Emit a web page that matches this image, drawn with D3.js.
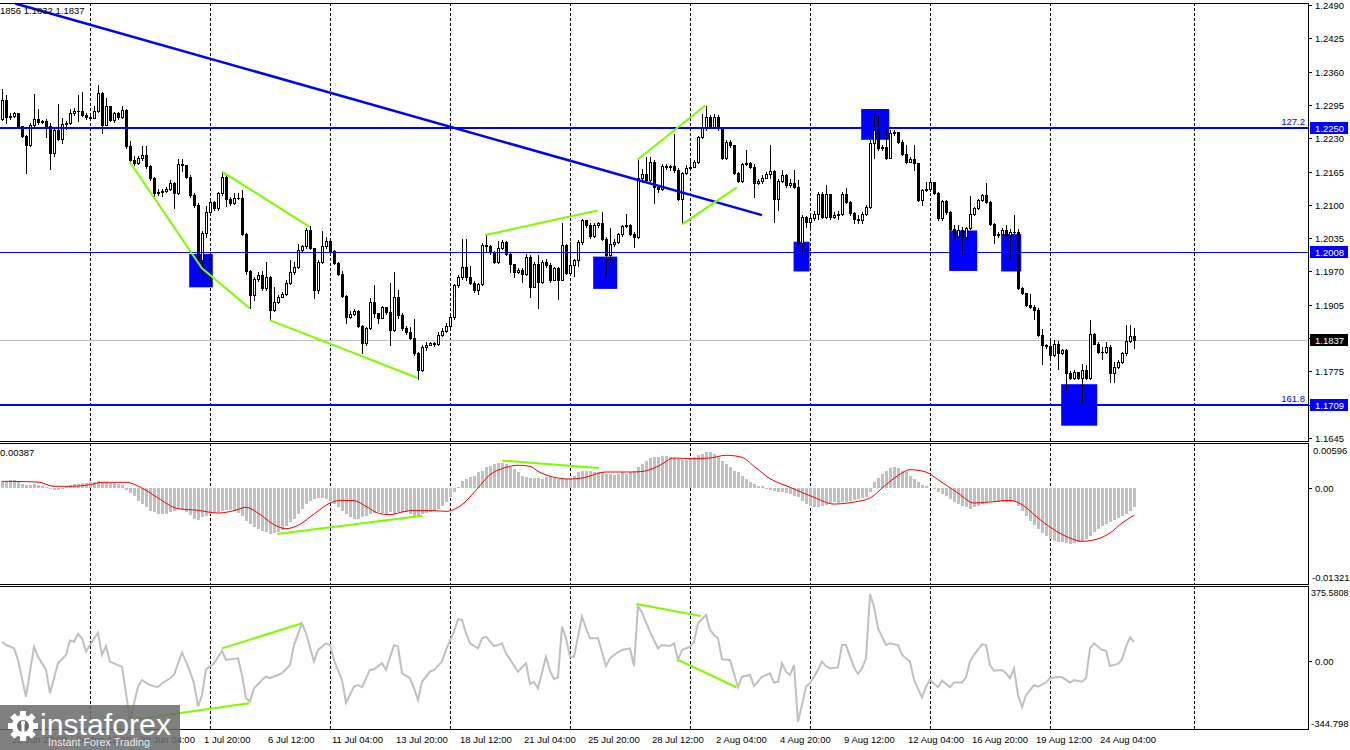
<!DOCTYPE html>
<html><head><meta charset="utf-8">
<script src="https://cdn.jsdelivr.net/npm/d3@7"></script>
<style>body{margin:0;background:#fff}svg{display:block}text{font-family:"Liberation Sans",Arial,sans-serif}</style>
</head><body><svg id="c" width="1350" height="750"></svg>
<script>
// ---------- DATA ----------
const firstOpen = 1.2267;
const closes = [1.2305,1.2272,1.2274,1.2279,1.2253,1.2235,1.2217,1.2256,1.2267,1.2261,
1.2263,1.2253,1.2201,1.2246,1.2228,1.2258,1.2259,1.2279,1.2284,1.2283,
1.2276,1.2271,1.2270,1.2284,1.2318,1.2256,1.2292,1.2266,1.2280,1.2271,
1.2285,1.2214,1.2188,1.2181,1.2191,1.2197,1.2175,1.2152,1.2123,1.2126,
1.2127,1.2130,1.2143,1.2123,1.2180,1.2178,1.2155,1.2119,1.2100,1.1992,
1.2045,1.2087,1.2106,1.2093,1.2123,1.2154,1.2111,1.2103,1.2113,1.2114,
1.2043,1.1970,1.1924,1.1955,1.1963,1.1937,1.1960,1.1895,1.1911,1.1920,
1.1926,1.1947,1.1968,1.1979,1.2011,1.2019,1.2051,1.2015,1.1934,1.1989,
1.2020,1.2030,1.2009,1.1987,1.1966,1.1922,1.1882,1.1887,1.1892,1.1864,
1.1830,1.1859,1.1911,1.1888,1.1880,1.1900,1.1890,1.1856,1.1921,1.1885,
1.1859,1.1851,1.1841,1.1810,1.1778,1.1823,1.1826,1.1830,1.1829,1.1846,
1.1854,1.1864,1.1882,1.1943,1.1959,1.1979,1.1959,1.1948,1.1933,1.1945,
1.2021,1.2019,1.2008,1.1989,1.2015,1.2028,1.2005,1.1984,1.1969,1.1972,
1.1966,1.1999,1.1940,1.1985,1.1950,1.1989,1.1982,1.1953,1.1976,1.1954,
1.2021,1.1967,1.1982,1.1992,1.2028,1.2070,1.2060,1.2039,1.2060,1.2064,
1.2034,1.2002,1.2023,1.2028,1.2043,1.2058,1.2060,1.2044,1.2038,1.2153,
1.2161,1.2148,1.2184,1.2135,1.2130,1.2176,1.2173,1.2176,1.2168,1.2112,
1.2163,1.2172,1.2174,1.2184,1.2232,1.2249,1.2272,1.2252,1.2272,1.2249,
1.2191,1.2223,1.2217,1.2163,1.2147,1.2179,1.2182,1.2174,1.2143,1.2147,
1.2153,1.2161,1.2166,1.2112,1.2147,1.2158,1.2138,1.2143,1.2135,1.2025,
1.2077,1.2067,1.2075,1.2083,1.2121,1.2077,1.2121,1.2077,1.2080,1.2082,
1.2121,1.2106,1.2084,1.2073,1.2071,1.2083,1.2096,1.2220,1.2247,1.2210,
1.2212,1.2191,1.2241,1.2243,1.2223,1.2200,1.2184,1.2189,1.2181,1.2110,
1.2129,1.2130,1.2144,1.2123,1.2075,1.2108,1.2086,1.2052,1.2039,1.2051,
1.2038,1.2054,1.2082,1.2093,1.2109,1.2119,1.2106,1.2062,1.2041,1.2044,
1.2051,1.2041,1.2047,1.2047,1.1937,1.1927,1.1904,1.1901,1.1894,1.1846,
1.1826,1.1824,1.1806,1.1829,1.1810,1.1816,1.1771,1.1763,1.1774,1.1763,
1.1777,1.1763,1.1847,1.1829,1.1813,1.1813,1.1823,1.1771,1.1784,1.1794,
1.1810,1.1834,1.1844,1.1837];
const highs = [1.2326,1.2315,1.2279,1.2282,1.2279,1.2253,1.2237,1.2259,1.2317,1.2287,
1.2266,1.2267,1.2259,1.2250,1.2297,1.2269,1.2263,1.2287,1.2289,1.2315,
1.2321,1.2279,1.2274,1.2292,1.2334,1.2321,1.2308,1.2293,1.2282,1.2282,
1.2293,1.2288,1.2224,1.2196,1.2196,1.2214,1.2214,1.2178,1.2155,1.2130,
1.2130,1.2134,1.2149,1.2145,1.2189,1.2189,1.2178,1.2158,1.2123,1.2104,
1.2048,1.2097,1.2111,1.2108,1.2126,1.2165,1.2158,1.2116,1.2123,1.2123,
1.2129,1.2046,1.1973,1.1960,1.1968,1.1970,1.1989,1.1961,1.1940,1.1924,
1.1930,1.1953,1.1992,1.1989,1.2024,1.2022,1.2054,1.2058,1.2015,1.1992,
1.2048,1.2038,1.2033,1.2011,1.1989,1.1970,1.1924,1.1892,1.1896,1.1895,
1.1866,1.1862,1.1918,1.1944,1.1888,1.1903,1.1901,1.1947,1.1968,1.1934,
1.1888,1.1864,1.1862,1.1877,1.1813,1.1826,1.1833,1.1833,1.1833,1.1851,
1.1859,1.1869,1.1888,1.1946,1.1963,1.2034,1.2034,1.1980,1.1952,1.1948,
1.2025,1.2041,1.2022,1.2010,1.2030,1.2031,1.2030,1.2006,1.1985,1.1976,
1.1976,1.2005,1.2002,1.1989,1.2003,1.1993,1.1995,1.1987,1.1979,1.1978,
1.2064,1.2023,1.2028,1.1995,1.2031,1.2073,1.2071,1.2064,1.2064,1.2067,
1.2086,1.2038,1.2054,1.2034,1.2045,1.2060,1.2083,1.2062,1.2047,1.2187,
1.2169,1.2194,1.2194,1.2187,1.2138,1.2179,1.2179,1.2178,1.2239,1.2171,
1.2165,1.2178,1.2191,1.2187,1.2234,1.2278,1.2293,1.2275,1.2278,1.2275,
1.2252,1.2226,1.2226,1.2217,1.2165,1.2182,1.2207,1.2184,1.2179,1.2151,
1.2158,1.2165,1.2217,1.2168,1.2150,1.2168,1.2161,1.2150,1.2168,1.2148,
1.2080,1.2078,1.2080,1.2088,1.2125,1.2125,1.2138,1.2122,1.2086,1.2088,
1.2125,1.2132,1.2108,1.2086,1.2080,1.2086,1.2099,1.2226,1.2278,1.2273,
1.2217,1.2249,1.2246,1.2247,1.2243,1.2226,1.2217,1.2194,1.2217,1.2182,
1.2131,1.2145,1.2147,1.2145,1.2125,1.2110,1.2109,1.2088,1.2060,1.2060,
1.2057,1.2057,1.2117,1.2096,1.2112,1.2122,1.2143,1.2108,1.2065,1.2047,
1.2054,1.2060,1.2052,1.2080,1.2052,1.1940,1.1928,1.1926,1.1904,1.1898,
1.1857,1.1828,1.1836,1.1837,1.1834,1.1819,1.1818,1.1776,1.1777,1.1774,
1.1789,1.1787,1.1876,1.1850,1.1833,1.1823,1.1832,1.1826,1.1793,1.1797,
1.1813,1.1865,1.1865,1.1859];
const lows = [1.2265,1.2259,1.2267,1.2272,1.2252,1.2232,1.2162,1.2215,1.2254,1.2258,
1.2259,1.2233,1.2170,1.2196,1.2227,1.2220,1.2248,1.2258,1.2275,1.2263,
1.2274,1.2268,1.2267,1.2269,1.2282,1.2240,1.2256,1.2263,1.2261,1.2267,
1.2269,1.2211,1.2185,1.2178,1.2180,1.2188,1.2171,1.2149,1.2116,1.2119,
1.2117,1.2126,1.2128,1.2093,1.2121,1.2167,1.2152,1.2116,1.2095,1.1983,
1.1966,1.2038,1.2085,1.2090,1.2089,1.2119,1.2097,1.2100,1.2101,1.2111,
1.2041,1.1966,1.1898,1.1914,1.1952,1.1934,1.1934,1.1875,1.1892,1.1908,
1.1920,1.1924,1.1946,1.1965,1.1976,1.2009,1.2015,1.2013,1.1918,1.1927,
1.1986,1.2015,1.2007,1.1985,1.1964,1.1920,1.1869,1.1880,1.1886,1.1861,
1.1810,1.1826,1.1857,1.1882,1.1869,1.1879,1.1887,1.1826,1.1854,1.1880,
1.1856,1.1848,1.1838,1.1807,1.1761,1.1776,1.1817,1.1826,1.1825,1.1826,
1.1844,1.1852,1.1862,1.1878,1.1940,1.1956,1.1953,1.1945,1.1930,1.1926,
1.1943,1.2010,1.2005,1.1987,1.1987,1.2013,1.2002,1.1969,1.1959,1.1967,
1.1950,1.1963,1.1920,1.1939,1.1898,1.1948,1.1979,1.1950,1.1953,1.1917,
1.1953,1.1965,1.1963,1.1962,1.1980,1.2023,1.2057,1.2036,1.2038,1.2057,
1.2031,1.1963,1.1989,1.2019,1.2025,1.2039,1.2056,1.2041,1.2018,1.2036,
1.2145,1.2145,1.2147,1.2103,1.2125,1.2129,1.2170,1.2168,1.2165,1.2109,
1.2064,1.2161,1.2170,1.2173,1.2182,1.2230,1.2247,1.2249,1.2251,1.2246,
1.2189,1.2189,1.2213,1.2160,1.2145,1.2145,1.2177,1.2171,1.2116,1.2140,
1.2143,1.2153,1.2153,1.2067,1.2090,1.2145,1.2135,1.2134,1.2132,1.2021,
1.2002,1.2057,1.2056,1.2071,1.2073,1.2074,1.2075,1.2073,1.2075,1.2073,
1.2080,1.2103,1.2080,1.2064,1.2065,1.2065,1.2080,1.2093,1.2191,1.2208,
1.2208,1.2189,1.2191,1.2236,1.2220,1.2197,1.2182,1.2184,1.2168,1.2108,
1.2099,1.2127,1.2127,1.2121,1.2070,1.2071,1.2083,1.2051,1.2036,1.2038,
1.2005,1.2034,1.2052,1.2080,1.2091,1.2108,1.2104,1.2060,1.2026,1.2038,
1.2043,1.2038,1.1995,1.2044,1.1935,1.1926,1.1902,1.1898,1.1878,1.1844,
1.1790,1.1821,1.1803,1.1805,1.1780,1.1808,1.1739,1.1760,1.1761,1.1760,
1.1715,1.1760,1.1761,1.1828,1.1810,1.1800,1.1811,1.1754,1.1754,1.1781,
1.1792,1.1806,1.1832,1.1820];
const macdHist = [0.00098,0.00098,0.00112,0.00112,0.00084,0.00056,0.00042,0.00042,0.00056,0.00042,
0.00028,0.00014,-0.00014,-0.00028,-0.00028,-0.00014,0.00014,0.00042,0.00056,0.00056,
0.0007,0.0007,0.00084,0.00084,0.00098,0.00084,0.00084,0.0007,0.0007,0.00056,
0.00042,-0.00028,-0.0007,-0.00112,-0.00182,-0.00224,-0.00266,-0.00322,-0.00336,-0.00364,
-0.00364,-0.00364,-0.00336,-0.00322,-0.00294,-0.00308,-0.00336,-0.00378,-0.00434,-0.00448,
-0.00406,-0.00392,-0.00364,-0.0035,-0.00336,-0.00322,-0.00308,-0.00308,-0.00322,-0.0035,
-0.00392,-0.00462,-0.00504,-0.00546,-0.00574,-0.00602,-0.00616,-0.00644,-0.0063,-0.00616,
-0.00588,-0.00532,-0.00476,-0.00434,-0.00364,-0.00294,-0.00224,-0.00182,-0.00154,-0.0014,
-0.0014,-0.00154,-0.00182,-0.00224,-0.00266,-0.00322,-0.00364,-0.00406,-0.00434,-0.00434,
-0.00406,-0.00392,-0.00364,-0.0035,-0.00336,-0.0035,-0.00364,-0.00336,-0.00364,-0.00336,
-0.00336,-0.00336,-0.00364,-0.00392,-0.00392,-0.00364,-0.0035,-0.00336,-0.00322,-0.00294,
-0.00252,-0.00196,-0.00126,-0.00056,0.00014,0.00098,0.00126,0.00154,0.00168,0.00224,
0.00238,0.00294,0.00308,0.00336,0.0035,0.0035,0.00336,0.00294,0.00266,0.00224,
0.00168,0.00154,0.0014,0.0014,0.0014,0.00126,0.00154,0.00168,0.0014,0.00126,
0.00126,0.00126,0.0014,0.00168,0.00224,0.00238,0.00238,0.00238,0.00224,0.00224,
0.00224,0.00196,0.00196,0.00182,0.00196,0.00224,0.00196,0.00224,0.00238,0.00294,
0.00336,0.00378,0.0042,0.00434,0.00434,0.00448,0.00448,0.00434,0.0042,0.00406,
0.00392,0.00392,0.00406,0.00434,0.00462,0.00476,0.00504,0.00504,0.00476,0.00434,
0.00378,0.00336,0.00294,0.00238,0.00224,0.00168,0.00126,0.00084,0.00056,0.00028,
0.00028,-0.00014,-0.00028,-0.00042,-0.00056,-0.00056,-0.0007,-0.00084,-0.00112,-0.00126,
-0.00182,-0.00224,-0.00252,-0.00266,-0.00266,-0.00252,-0.00238,-0.0021,-0.00196,-0.0021,
-0.00196,-0.00196,-0.00182,-0.00168,-0.00154,-0.0014,-0.00126,-0.00056,0.00084,0.0014,
0.00196,0.00238,0.0028,0.00294,0.0028,0.00238,0.00224,0.00168,0.00126,0.00084,
0.00042,0.00028,0,-0.00014,-0.00056,-0.00084,-0.00112,-0.00154,-0.00196,-0.00224,
-0.00252,-0.00266,-0.00294,-0.00266,-0.00252,-0.00224,-0.00196,-0.00182,-0.00182,-0.00196,
-0.00196,-0.00196,-0.00196,-0.00196,-0.00252,-0.00322,-0.00392,-0.00462,-0.00518,-0.00574,
-0.0063,-0.00672,-0.00714,-0.00742,-0.00756,-0.00756,-0.0077,-0.00784,-0.0077,-0.00756,
-0.00742,-0.00714,-0.00672,-0.00616,-0.00574,-0.00532,-0.00504,-0.00476,-0.00448,-0.0042,
-0.00392,-0.00364,-0.00322,-0.00266];
const signalIdx = [0,9,13,17,22,25,31,35,39,44,49,54,58,61,64,68,71,74,78,82,85,88,91,94,97,100,103,108,111,115,119,122,125,129,132,134,139,142,145,151,157,160,164,168,172,177,181,185,188,192,197,203,208,213,217,221,225,227,231,234,239,243,247,252,255,259,263,267,270,272,277,280,283];
const signalVal = [0.00088,0.00078,0.00018,0.00018,0.00041,0.00074,0.00074,-0.00006,-0.00146,-0.00295,-0.00318,-0.00356,-0.00323,-0.00276,-0.00356,-0.00519,-0.00575,-0.00528,-0.0037,-0.00216,-0.00178,-0.00183,-0.00262,-0.00356,-0.00379,-0.00342,-0.00318,-0.00323,-0.00332,-0.00239,-0.00006,0.00181,0.00265,0.00312,0.00298,0.00228,0.00134,0.0012,0.00134,0.00218,0.00218,0.00225,0.00298,0.00414,0.00405,0.00414,0.00452,0.00424,0.00298,0.00125,0.00004,-0.00136,-0.0023,-0.00202,-0.00146,0.00041,0.00204,0.00251,0.00218,0.00111,-0.00076,-0.00216,-0.00202,-0.00178,-0.00239,-0.00426,-0.00589,-0.00706,-0.00752,-0.00743,-0.00636,-0.00496,-0.00387];
const cciIdx = [0,1,2,3,4,6,8,9,11,12,14,16,17,18,19,20,21,22,24,25,26,27,29,30,32,34,35,37,39,40,42,43,44,45,46,47,48,49,50,51,53,55,56,59,60,61,62,63,65,66,67,69,70,72,73,75,76,78,79,81,82,83,85,86,88,89,90,92,93,95,96,98,99,100,102,103,104,105,107,108,110,111,113,114,115,116,117,119,120,121,123,124,125,126,129,130,131,132,133,134,136,137,138,139,140,141,142,143,145,146,147,149,151,152,153,155,157,158,159,160,161,162,164,165,167,168,169,170,172,173,174,176,177,178,179,180,182,184,185,187,188,190,192,193,194,195,196,197,198,199,200,201,202,204,205,206,207,209,210,211,213,214,215,216,217,218,219,221,222,224,225,227,228,230,231,232,234,235,237,238,240,241,242,243,245,246,247,248,250,251,252,253,254,255,256,258,259,261,262,264,265,267,268,270,271,272,273,275,276,277,279,280,281,282,283];
const cciVal = [99,82,74,65,5,-184,74,22,-46,-166,-12,31,105,99,139,117,48,82,146,31,77,-3,-21,-29,-304,-132,-98,-124,-135,-115,-89,-72,-12,43,-3,-55,-115,-235,-175,-43,-12,53,5,14,-72,-192,-209,-141,-98,-81,-89,-72,-63,-21,82,194,143,-3,57,91,82,5,-98,-215,-132,-124,-135,-46,-43,-12,-46,82,74,-63,-89,-141,-201,-107,-55,-46,-3,57,151,215,211,143,91,65,117,125,77,82,91,40,-55,-33,-12,-118,-107,-141,22,-50,-94,-84,177,117,22,22,228,168,117,117,-26,14,31,57,65,-26,283,250,200,150,65,82,77,91,5,57,74,99,194,237,160,134,117,9,5,-135,-81,-72,-129,-81,-63,-111,-107,-12,-55,-72,-21,-312,-226,-132,-115,-46,-3,-26,-38,-33,82,82,-33,-67,-38,14,345,279,168,82,91,82,31,-3,-98,-187,-132,-98,-135,-101,-135,-111,-111,-84,-3,31,86,82,-21,-50,-46,-63,-89,-38,-175,-238,-175,-124,-132,-111,-89,-81,-84,-111,-98,-107,-89,65,91,57,53,-26,-15,9,74,122,99];
const priceTicks = [1.2490,1.2425,1.2360,1.2295,1.2230,1.2165,1.2100,1.2035,1.1970,1.1905,1.1840,1.1775,1.1710,1.1645];
const levelPrices = [1.2250, 1.2008, 1.1709];
const fiboLabels = [["127.2",1.2250],["161.8",1.1709]];
const lastPrice = 1.1837;
const timeLabels = ["22 Jun 20:00","24 Jun 12:00","29 Jun 04:00","1 Jul 20:00","6 Jul 12:00","11 Jul 04:00","13 Jul 20:00","18 Jul 12:00","21 Jul 04:00","25 Jul 20:00","28 Jul 12:00","2 Aug 04:00","4 Aug 20:00","9 Aug 12:00","12 Aug 04:00","16 Aug 20:00","19 Aug 12:00","24 Aug 04:00"];
const timeIdx = [2,18,34,50,66,82,98,114,130,146,162,178,194,210,226,242,258,274];
const gridIdx = [22,52,82,112,142,172,202,232,262,298];
const trendLine = [[3.3,1.2493],[190,1.2080]];
const priceGreen = [[[31.9,1.2184],[50,1.1976],[61.9,1.1898]],[[55,1.2165],[76.9,1.2057]],[[66.9,1.1875],[103.9,1.1762]],[[120.8,1.2041],[148.9,1.2089]],[[158.9,1.2188],[175.8,1.2294]],[[170,1.2062],[183.7,1.2134]]];
const macdGreen = [[[68.8,-0.0065],[105.1,-0.00393]],[[125,0.00377],[149.2,0.00274]]];
const cciGreen = [[[32.2,-304],[61.8,-218]],[[55,65],[75,194]],[[158.6,293],[174.7,232]],[[169.1,5],[183.6,-135]]];
const boxes = [[46.8,52.7,1.2004,1.1939],[147.8,153.8,1.1999,1.1936],[197.9,201.9,1.2028,1.1970],[214.8,221.8,1.2287,1.2227],[236.8,243.8,1.2050,1.1971],[249.8,254.8,1.2043,1.1970],[264.8,273.8,1.1750,1.1669]];
const macdTop = 0.00596, macdBottom = -0.01321;
const cciTop = 375.5808, cciBottom = -344.798;
const headerText = "1856 1.1832 1.1837";
const macdText = "0.00387";

// ---------- LAYOUT ----------
const AX = 1308;
const P1 = {t:3, b:441}, P2 = {t:443, b:584}, P3 = {t:586, b:729};
const svg = d3.select("#c");
svg.append("rect").attr("width",1350).attr("height",750).attr("fill","#fff");

const xs = d3.scaleLinear().domain([0,283]).range([2,1134]);
const yP = d3.scaleLinear().domain([1.1645,1.2490]).range([438,5]);
const yM = d3.scaleLinear().domain([macdBottom,macdTop]).range([582,445]);
const yC = d3.scaleLinear().domain([cciBottom,cciTop]).range([728,588]);

const defs = svg.append("defs");
[["cp1",P1],["cp2",P2],["cp3",P3]].forEach(([id,p])=>{
  defs.append("clipPath").attr("id",id).append("rect").attr("x",0).attr("y",p.t).attr("width",AX).attr("height",p.b-p.t);
});
const g1 = svg.append("g").attr("clip-path","url(#cp1)");
const g2 = svg.append("g").attr("clip-path","url(#cp2)");
const g3 = svg.append("g").attr("clip-path","url(#cp3)");

// blue boxes (background objects)
g1.selectAll("rect.box").data(boxes).join("rect").attr("class","box")
  .attr("x",d=>xs(d[0])).attr("width",d=>xs(d[1])-xs(d[0]))
  .attr("y",d=>yP(d[2])).attr("height",d=>yP(d[3])-yP(d[2])).attr("fill","#0000ff");

// dashed grid
[[g1,P1],[g2,P2],[g3,P3]].forEach(([g,p])=>{
  g.selectAll("line.grid").data(gridIdx).join("line").attr("class","grid")
   .attr("x1",d=>Math.round(xs(d))+0.5).attr("x2",d=>Math.round(xs(d))+0.5)
   .attr("y1",p.t).attr("y2",p.b).attr("stroke","#000").attr("stroke-width",1)
   .attr("stroke-dasharray","3,2").attr("shape-rendering","crispEdges");
});

// current price line
g1.append("line").attr("x1",0).attr("x2",AX).attr("y1",Math.round(yP(lastPrice))+0.5).attr("y2",Math.round(yP(lastPrice))+0.5)
  .attr("stroke","#c0c0c0").attr("shape-rendering","crispEdges");

// candles
const cg = g1.append("g").attr("shape-rendering","crispEdges");
closes.forEach((c,i)=>{
  const o = i ? closes[i-1] : firstOpen;
  const h = Math.max(highs[i],o,c), l = Math.min(lows[i],o,c);
  const cx = Math.round(xs(i));
  cg.append("line").attr("x1",cx+0.5).attr("x2",cx+0.5)
    .attr("y1",Math.round(yP(h))).attr("y2",Math.round(yP(l))+1).attr("stroke","#000");
  const top = Math.round(yP(Math.max(o,c))), bot = Math.round(yP(Math.min(o,c)));
  if (bot-top < 1) {
    cg.append("line").attr("x1",cx-1).attr("x2",cx+2).attr("y1",top+0.5).attr("y2",top+0.5).attr("stroke","#000");
  } else {
    cg.append("rect").attr("x",cx-0.5).attr("y",top+0.5).attr("width",2).attr("height",bot-top)
      .attr("fill",c>o?"#fff":"#000").attr("stroke","#000");
  }
});

// level lines
levelPrices.forEach((p,k)=>{
  const w = k===1 ? 1 : 2;
  const y = Math.round(yP(p)) + (w===1?0.5:0);
  g1.append("line").attr("x1",0).attr("x2",AX).attr("y1",y).attr("y2",y)
    .attr("stroke","#0000ff").attr("stroke-width",w).attr("shape-rendering","crispEdges");
});
g1.selectAll("text.fibo").data(fiboLabels).join("text").attr("class","fibo")
  .attr("x",1305).attr("y",d=>yP(d[1])-3).attr("text-anchor","end")
  .attr("font-size","9.5px").attr("fill","#0000ff").text(d=>d[0]);

// trend line
const lineP = d3.line().x(d=>xs(d[0])).y(d=>yP(d[1]));
g1.append("path").attr("d",lineP(trendLine)).attr("stroke","#0000ff").attr("stroke-width",2.5).attr("fill","none");
g1.selectAll("path.gr").data(priceGreen).join("path").attr("class","gr").attr("d",lineP)
  .attr("stroke","#7cfc00").attr("stroke-width",2).attr("fill","none");

// MACD
const mg = g2.append("g").attr("shape-rendering","crispEdges");
const z = Math.round(yM(0));
macdHist.forEach((v,i)=>{
  if (!v) return;
  const y = Math.round(yM(v));
  const cx = Math.round(xs(i));
  mg.append("rect").attr("x",cx-1).attr("width",3)
    .attr("y",Math.min(y,z)).attr("height",Math.max(1,Math.abs(y-z))).attr("fill","#c0c0c0");
});
const sig = signalIdx.map((d,k)=>[d,signalVal[k]]);
g2.append("path").attr("d",d3.line().x(d=>xs(d[0])).y(d=>yM(d[1])).curve(d3.curveMonotoneX)(sig))
  .attr("stroke","#ff0000").attr("stroke-width",1).attr("fill","none");
g2.selectAll("path.gr").data(macdGreen).join("path").attr("class","gr")
  .attr("d",d3.line().x(d=>xs(d[0])).y(d=>yM(d[1])))
  .attr("stroke","#7cfc00").attr("stroke-width",2).attr("fill","none");

// CCI
const cci = cciIdx.map((d,k)=>[d,cciVal[k]]);
g3.append("path").attr("d",d3.line().x(d=>xs(d[0])).y(d=>yC(d[1]))(cci))
  .attr("stroke","#c0c0c0").attr("stroke-width",2).attr("fill","none");
g3.selectAll("path.gr").data(cciGreen).join("path").attr("class","gr")
  .attr("d",d3.line().x(d=>xs(d[0])).y(d=>yC(d[1])))
  .attr("stroke","#7cfc00").attr("stroke-width",2).attr("fill","none");

// panel frames
const fr = svg.append("g").attr("stroke","#000").attr("shape-rendering","crispEdges");
[P1,P2,P3].forEach(p=>{
  fr.append("line").attr("x1",0).attr("x2",AX+1).attr("y1",p.t+0.5).attr("y2",p.t+0.5);
  fr.append("line").attr("x1",0).attr("x2",AX+1).attr("y1",p.b+0.5).attr("y2",p.b+0.5);
  fr.append("line").attr("x1",AX+0.5).attr("x2",AX+0.5).attr("y1",p.t).attr("y2",p.b+1);
});

// right axis: price
const ax = svg.append("g");
priceTicks.forEach(t=>{
  const y = Math.round(yP(t));
  ax.append("line").attr("x1",AX).attr("x2",AX+4).attr("y1",y+0.5).attr("y2",y+0.5).attr("stroke","#000").attr("shape-rendering","crispEdges");
  ax.append("text").attr("x",1315).attr("y",y+4).attr("font-size","9.5px").attr("fill","#000").text(t.toFixed(4));
});
function tag(p, bg){
  const y = yP(p);
  ax.append("rect").attr("x",AX+2).attr("y",Math.round(y)-6).attr("width",38).attr("height",12).attr("fill",bg);
  ax.append("text").attr("x",1315).attr("y",Math.round(y)+4).attr("font-size","9.5px").attr("fill","#fff").text(p.toFixed(4));
}
levelPrices.forEach(p=>tag(p,"#0000ff"));
tag(lastPrice,"#000");

// right axis: MACD / CCI
function itick(y){ ax.append("line").attr("x1",AX).attr("x2",AX+4).attr("y1",Math.round(y)+0.5).attr("y2",Math.round(y)+0.5).attr("stroke","#000").attr("shape-rendering","crispEdges"); }
ax.append("text").attr("x",1313).attr("y",P2.t+11).attr("font-size","9.5px").text(macdTop.toFixed(5));
itick(yM(0)); ax.append("text").attr("x",1315).attr("y",Math.round(yM(0))+4).attr("font-size","9.5px").text("0.00");
ax.append("text").attr("x",1312).attr("y",P2.b-3).attr("font-size","9.5px").text(macdBottom.toFixed(5));
ax.append("text").attr("x",1311).attr("y",P3.t+10).attr("font-size","9px").text(cciTop.toFixed(4));
itick(yC(0)); ax.append("text").attr("x",1315).attr("y",Math.round(yC(0))+4).attr("font-size","9.5px").text("0.00");
ax.append("text").attr("x",1311).attr("y",P3.b-2).attr("font-size","9.5px").text(cciBottom.toFixed(3));

// time axis
svg.selectAll("text.tl").data(timeLabels).join("text").attr("class","tl")
  .attr("x",(d,k)=>xs(timeIdx[k])+2).attr("y",743).attr("font-size","9.5px").attr("fill","#000").text(d=>d);

// header texts
svg.append("text").attr("x",0).attr("y",14).attr("font-size","9.5px").attr("fill","#000").text(headerText);
svg.append("text").attr("x",0).attr("y",456).attr("font-size","9.5px").attr("fill","#000").text(macdText);

// watermark logo
const lg = svg.append("g");
lg.append("rect").attr("x",0).attr("y",705).attr("width",180).attr("height",45).attr("fill","#6a6a6a").attr("opacity",0.85);
const gc = [23,726];
for (let k=0;k<8;k++){
  lg.append("rect").attr("x",gc[0]-3).attr("y",gc[1]-15).attr("width",6).attr("height",6).attr("fill","#fff")
    .attr("transform",`rotate(${k*45},${gc[0]},${gc[1]})`);
}
lg.append("circle").attr("cx",gc[0]).attr("cy",gc[1]).attr("r",11).attr("fill","#fff");
lg.append("circle").attr("cx",gc[0]).attr("cy",gc[1]).attr("r",6).attr("fill","#6a6a6a");
lg.append("circle").attr("cx",gc[0]).attr("cy",gc[1]-3).attr("r",2.2).attr("fill","#fff");
lg.append("rect").attr("x",gc[0]-1.5).attr("y",gc[1]-1).attr("width",3).attr("height",12).attr("fill","#fff");
lg.append("text").attr("x",40).attr("y",735).attr("font-family","'Open Sans',sans-serif").attr("font-size","29px")
  .attr("fill","#fff").attr("textLength",131).attr("lengthAdjust","spacingAndGlyphs").text("instaforex");
lg.append("text").attr("x",48).attr("y",746).attr("font-size","10.5px").attr("fill","#e8e8e8")
  .attr("textLength",102).attr("lengthAdjust","spacingAndGlyphs").text("Instant Forex Trading");
</script></body></html>
